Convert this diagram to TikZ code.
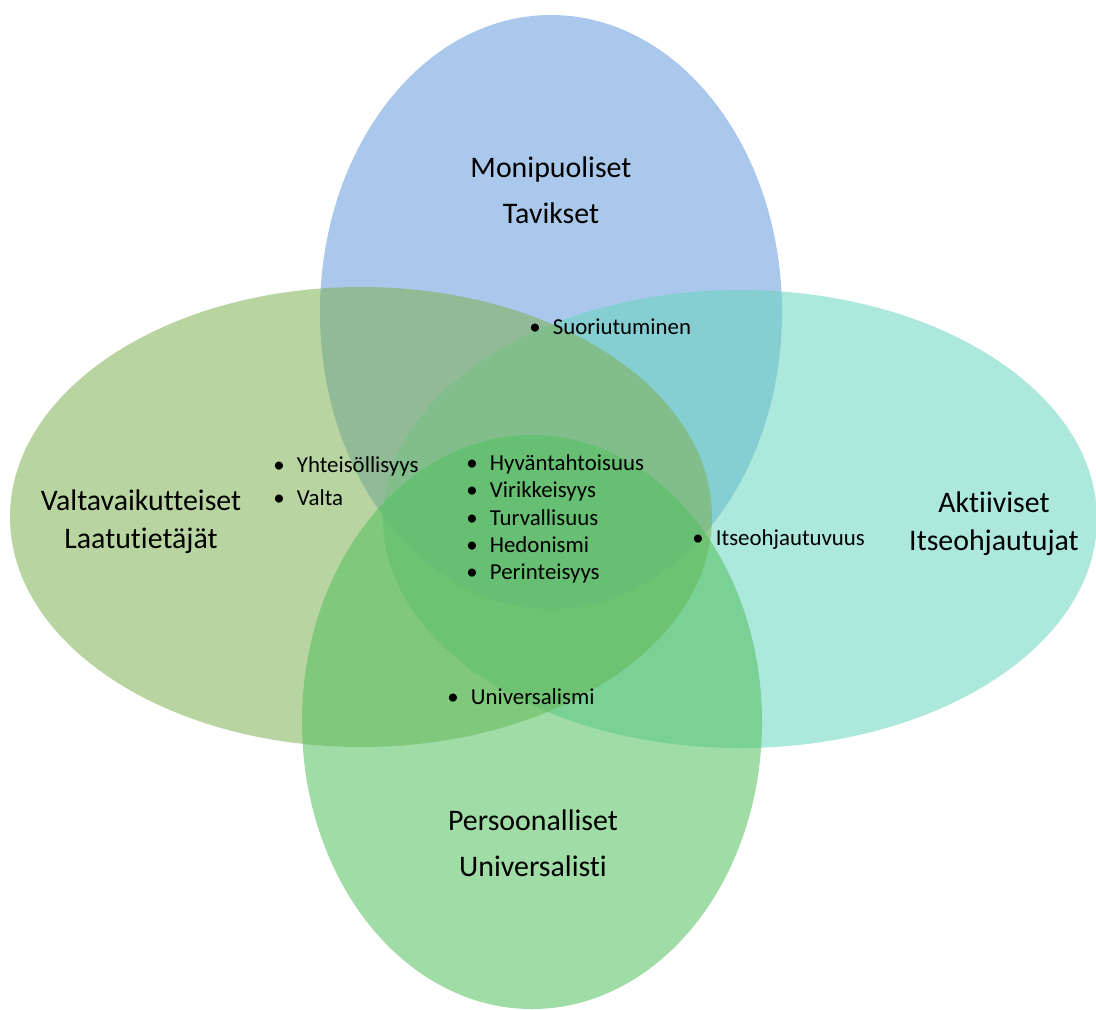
\documentclass[tikz,border=0pt]{standalone}
\usepackage{fontspec}
\setmainfont{Carlito}[Ligatures=NoCommon]
\definecolor{tavblue}{RGB}{100,155,220}
\definecolor{laatgreen}{RGB}{126,177,82}
\definecolor{aktteal}{RGB}{104,213,191}
\definecolor{persgreen}{RGB}{82,191,93}
\tikzstyle{bubble} = [opacity=.55]
\tikzstyle{groupwide} = [text centered, align=center, font=\fontsize{17}{26}\selectfont]
\tikzstyle{groupside} = [text centered, align=center, font=\fontsize{17}{21.5}\selectfont]
\tikzstyle{values} = [align=left, anchor=west, inner sep=0pt, font=\fontsize{13}{15.6}\selectfont]
\newcommand{\bul}{\makebox[13.4pt][l]{•}}

\begin{document}
\begin{tikzpicture}[x=0.02cm, y=-0.02cm]
\useasboundingbox (0,0) rectangle (1096,1009);

% the four groups
\fill [bubble, tavblue] (551,312) ellipse [x radius=231, y radius=297];
\fill [bubble, aktteal] (740,519) ellipse [x radius=357, y radius=229];
\fill [bubble, laatgreen] (361,517) ellipse [x radius=351, y radius=230];
\fill [bubble, persgreen] (532,722) ellipse [x radius=230, y radius=287];

\node (tavikset) [groupwide] at (551,190) {Monipuoliset\\Tavikset};
\node (laatu) [groupside] at (141,522) {Valtavaikutteiset\\Laatutietäjät};
\node (aktiiviset) [groupside] at (994,524) {Aktiiviset\\Itseohjautujat};
\node (persoonalliset) [groupwide] at (533,843) {Persoonalliset\\Universalisti};

% values in the overlaps
\node (suor) [values] at (529,327) {\bul Suoriutuminen};
\node (yhteis) [values, font=\fontsize{13}{18.7}\selectfont] at (273,481) {\bul Yhteisöllisyys\\\bul Valta};
\node (kaikki) [values] at (466,519) {\bul Hyväntahtoisuus\\\bul Virikkeisyys\\\bul Turvallisuus\\\bul Hedonismi\\\bul Perinteisyys};
\node (itse) [values] at (692,540) {\bul Itseohjautuvuus};
\node (univ) [values] at (447,697) {\bul Universalismi};

\end{tikzpicture}
\end{document}
